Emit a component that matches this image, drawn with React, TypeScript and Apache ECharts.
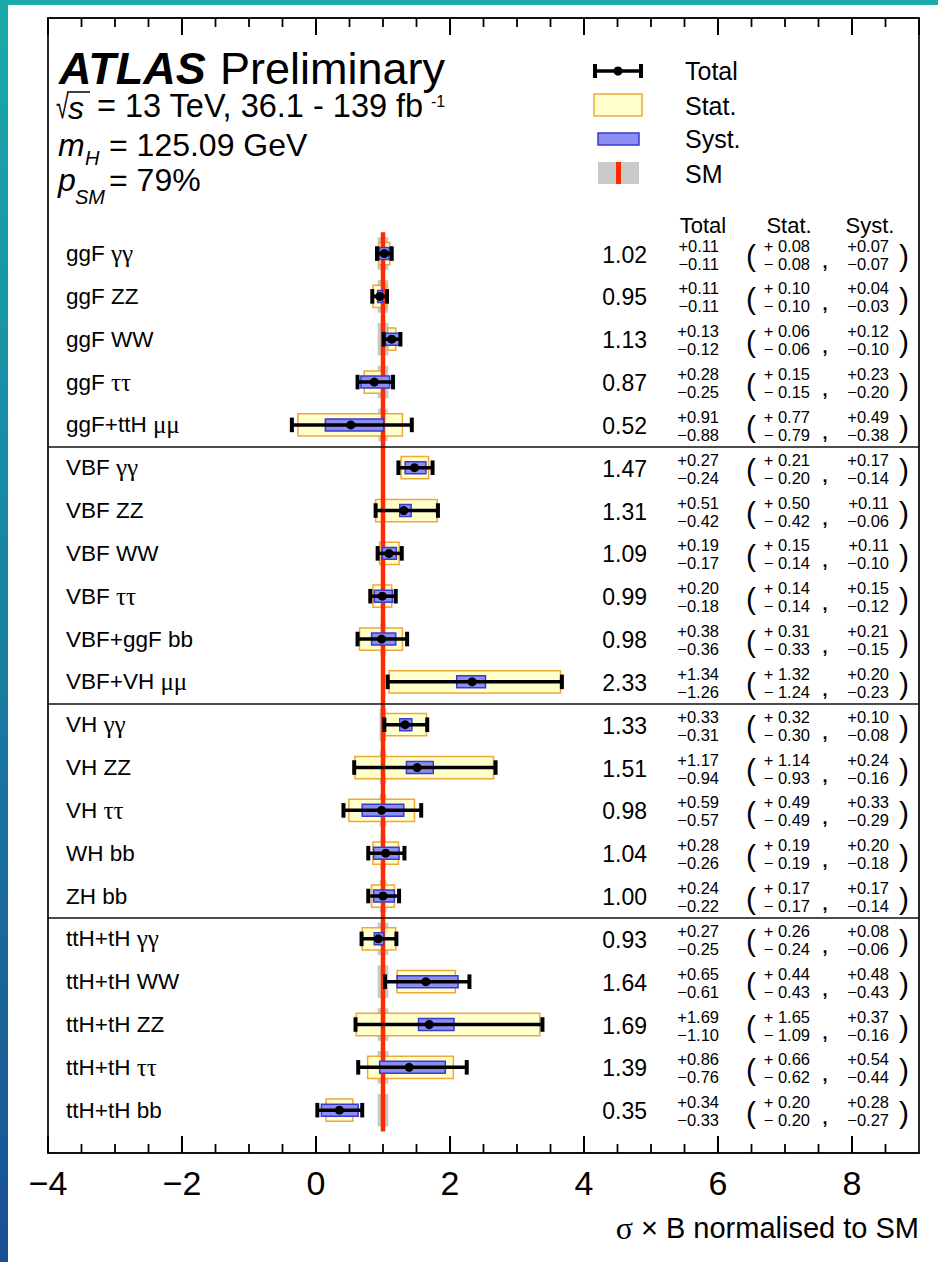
import React, { useEffect, useRef } from "react";
import * as echarts from "echarts";

// ---------------- data ----------------
const production = [
  "ggF", "ggF", "ggF", "ggF", "ggF+ttH",
  "VBF", "VBF", "VBF", "VBF", "VBF+ggF", "VBF+VH",
  "VH", "VH", "VH", "WH", "ZH",
  "ttH+tH", "ttH+tH", "ttH+tH", "ttH+tH", "ttH+tH",
];
const decays = [
  "γγ", "ZZ", "WW", "ττ", "μμ",
  "γγ", "ZZ", "WW", "ττ", "bb", "μμ",
  "γγ", "ZZ", "ττ", "bb", "bb",
  "γγ", "WW", "ZZ", "ττ", "bb",
];
const groups = [
  "ggF", "ggF", "ggF", "ggF", "ggF",
  "VBF", "VBF", "VBF", "VBF", "VBF", "VBF",
  "VH", "VH", "VH", "VH", "VH",
  "ttH", "ttH", "ttH", "ttH", "ttH",
];
const values = [1.02, 0.95, 1.13, 0.87, 0.52, 1.47, 1.31, 1.09, 0.99, 0.98, 2.33, 1.33, 1.51, 0.98, 1.04, 1.0, 0.93, 1.64, 1.69, 1.39, 0.35];
const totUp = [0.11, 0.11, 0.13, 0.28, 0.91, 0.27, 0.51, 0.19, 0.2, 0.38, 1.34, 0.33, 1.17, 0.59, 0.28, 0.24, 0.27, 0.65, 1.69, 0.86, 0.34];
const totDn = [0.11, 0.11, 0.12, 0.25, 0.88, 0.24, 0.42, 0.17, 0.18, 0.36, 1.26, 0.31, 0.94, 0.57, 0.26, 0.22, 0.25, 0.61, 1.1, 0.76, 0.33];
const statUp = [0.08, 0.1, 0.06, 0.15, 0.77, 0.21, 0.5, 0.15, 0.14, 0.31, 1.32, 0.32, 1.14, 0.49, 0.19, 0.17, 0.26, 0.44, 1.65, 0.66, 0.2];
const statDn = [0.08, 0.1, 0.06, 0.15, 0.79, 0.2, 0.42, 0.14, 0.14, 0.33, 1.24, 0.3, 0.93, 0.49, 0.19, 0.17, 0.24, 0.43, 1.09, 0.62, 0.2];
const systUp = [0.07, 0.04, 0.12, 0.23, 0.49, 0.17, 0.11, 0.11, 0.15, 0.21, 0.2, 0.1, 0.24, 0.33, 0.2, 0.17, 0.08, 0.48, 0.37, 0.54, 0.28];
const systDn = [0.07, 0.03, 0.1, 0.2, 0.38, 0.14, 0.06, 0.1, 0.12, 0.15, 0.23, 0.08, 0.16, 0.29, 0.18, 0.14, 0.06, 0.43, 0.16, 0.44, 0.27];
// SM theory uncertainty (grey band half-width)
const smUnc = [0.08, 0.08, 0.08, 0.08, 0.07, 0.03, 0.03, 0.03, 0.03, 0.04, 0.03, 0.05, 0.05, 0.05, 0.04, 0.05, 0.08, 0.08, 0.08, 0.08, 0.08];
const SM = 1;
const xTicks = { min: -4, max: 9, major: 2, minor: 0.5 };

// ---------------- layout / style ----------------
const W = 938;
const H = 1262;
const SANS = '"Liberation Sans", Arial, Helvetica, sans-serif';
const SERIF = '"Liberation Serif", "Times New Roman", serif';
const FRAME = "#111111";
const n = values.length;
const Y_MIN = -5.5;
const Y_MAX = n;
const rows = values.map((_, i) => i);
const breaks: number[] = [];
for (let i = 1; i < n; i++) if (groups[i] !== groups[i - 1]) breaks.push(i - 0.5);
const tickMarks: number[][] = [];
for (let k = 1; xTicks.min + k * xTicks.minor < xTicks.max; k++) {
  const v = xTicks.min + k * xTicks.minor;
  tickMarks.push([v, 0, Math.abs(v / xTicks.major - Math.round(v / xTicks.major)) < 1e-9 ? 1 : 0]);
}
const minus = (v: number) => "\u2212" + v.toFixed(2);
const plus = (v: number) => "+" + v.toFixed(2);

function rectItem(frac: number, fill: string, stroke: string) {
  return (params: any, api: any) => {
    const i = api.value(1);
    const y = api.coord([api.value(0), i])[1];
    const xl = api.coord([api.value(2), i])[0];
    const xr = api.coord([api.value(3), i])[0];
    const h = api.size([0, 1])[1] * frac;
    return {
      type: "rect",
      shape: { x: xl, y: y - h / 2, width: xr - xl, height: h },
      style: { fill, stroke, lineWidth: 1.5 },
    };
  };
}

function buildGraphic(): any[] {
  const t = (x: number, y: number, text: string, fontSize: number, extra: any = {}) => ({
    type: "text",
    x,
    y,
    style: { text, fontSize, fontFamily: SANS, fill: "#000", verticalAlign: "middle", ...extra },
  });
  return [
    {
      type: "rect",
      shape: { x: 0, y: 0, width: 8, height: H },
      style: {
        fill: new echarts.graphic.LinearGradient(0, 0, 0, 1, [
          { offset: 0, color: "#1aaaa9" },
          { offset: 0.4, color: "#1789a4" },
          { offset: 1, color: "#1a5094" },
        ]),
      },
    },
    { type: "rect", shape: { x: 0, y: 0, width: W, height: 5 }, style: { fill: "#1aaaa9" } },
    // title block
    t(59, 68, "ATLAS", 45, { fontWeight: "bold", fontStyle: "italic" }),
    t(220, 68, "Preliminary", 45),
    { type: "text", x: 56, y: 106, scaleX: 0.7, style: { text: "\u221A", fontSize: 33, fontFamily: SANS, fill: "#000", verticalAlign: "middle" } },
    { type: "line", shape: { x1: 67, y1: 92, x2: 90, y2: 92 }, style: { stroke: "#000", lineWidth: 1.5 } },
    t(68, 108, "s", 32, { fontStyle: "italic" }),
    t(97, 106, "= 13 TeV, 36.1 - 139 fb", 32.5),
    t(431, 101, "-1", 16),
    t(58, 145, "m", 32, { fontStyle: "italic" }),
    t(85, 158, "H", 20, { fontStyle: "italic" }),
    t(109, 145, "= 125.09 GeV", 32),
    t(58, 180, "p", 32, { fontStyle: "italic" }),
    t(75, 197, "SM", 20, { fontStyle: "italic" }),
    t(109, 180, "= 79%", 32),
    // legend
    { type: "line", shape: { x1: 594, y1: 71, x2: 642, y2: 71 }, style: { stroke: "#000", lineWidth: 3.5 } },
    { type: "line", shape: { x1: 595, y1: 64, x2: 595, y2: 78 }, style: { stroke: "#000", lineWidth: 4 } },
    { type: "line", shape: { x1: 641, y1: 64, x2: 641, y2: 78 }, style: { stroke: "#000", lineWidth: 4 } },
    { type: "circle", shape: { cx: 618, cy: 71, r: 4.5 }, style: { fill: "#000" } },
    t(685, 71, "Total", 25),
    { type: "rect", shape: { x: 594, y: 94, width: 48, height: 22 }, style: { fill: "#ffffcc", stroke: "#eea83a", lineWidth: 1.5 } },
    t(685, 106, "Stat.", 25),
    { type: "rect", shape: { x: 598, y: 133, width: 41, height: 12 }, style: { fill: "#8c8cf2", stroke: "#3a3ad0", lineWidth: 1.5 } },
    t(685, 139, "Syst.", 25),
    { type: "rect", shape: { x: 598, y: 162, width: 41, height: 22 }, style: { fill: "#c9c9c9" } },
    { type: "rect", shape: { x: 616, y: 162, width: 5, height: 22 }, style: { fill: "#ff2a00" } },
    t(685, 174, "SM", 25),
    // column headers
    t(703, 225, "Total", 22, { align: "center" }),
    t(789, 225, "Stat.", 22, { align: "center" }),
    t(870, 225, "Syst.", 22, { align: "center" }),
    // axis title
    {
      type: "text",
      x: 919,
      y: 1228,
      style: {
        text: "{g|σ} × B normalised to SM",
        rich: { g: { fontFamily: SERIF, fontSize: 32, fill: "#000" } },
        fontSize: 29,
        fontFamily: SANS,
        fill: "#000",
        align: "right",
        verticalAlign: "middle",
      },
    },
  ];
}

function buildOption(graphicEls: any[]): any {
  const frameLine = { show: true, onZero: false, lineStyle: { color: FRAME, width: 1.8 } };
  const xAxisBase = {
    type: "value",
    min: xTicks.min,
    max: xTicks.max,
    interval: xTicks.major,
    splitLine: { show: false },
    axisLine: frameLine,
    axisTick: { show: true, inside: true, length: 17, lineStyle: { color: "#000", width: 2 } },
  };
  const yAxisBase = {
    type: "value",
    min: Y_MIN,
    max: Y_MAX,
    inverse: true,
    axisLine: frameLine,
    axisTick: { show: false },
    axisLabel: { show: false },
    splitLine: { show: false },
  };
  return {
    animation: false,
    backgroundColor: "#ffffff",
    grid: { left: 48, right: 19, top: 18, bottom: 109 },
    xAxis: [
      {
        ...xAxisBase,
        position: "bottom",
        axisLabel: {
          fontSize: 34,
          fontFamily: SANS,
          color: "#000",
          margin: 13,
          showMaxLabel: false,
          formatter: (v: number) => (v < 0 ? "\u2212" + Math.abs(v) : String(v)),
        },
      },
      {
        ...xAxisBase,
        position: "top",
        axisLabel: { show: false },
      },
    ],
    yAxis: [
      { ...yAxisBase, position: "left" },
      { ...yAxisBase, position: "right" },
    ],
    series: [
      {
        name: "SM band",
        type: "custom",
        z: 1,
        renderItem: rectItem(0.76, "#c9c9c9", "none"),
        data: rows.map((i) => [SM, i, SM - smUnc[i], SM + smUnc[i]]),
      },
      {
        name: "Stat.",
        type: "custom",
        z: 2,
        renderItem: rectItem(0.52, "#ffffcc", "#eea83a"),
        data: rows.map((i) => [values[i], i, values[i] - statDn[i], values[i] + statUp[i]]),
      },
      {
        name: "SM",
        type: "line",
        z: 3,
        symbol: "none",
        silent: true,
        lineStyle: { color: "#ff2a00", width: 4.5 },
        data: [
          [SM, -0.5],
          [SM, n - 0.5],
        ],
        markLine: {
          silent: true,
          symbol: "none",
          label: { show: false },
          lineStyle: { color: FRAME, width: 1.6, type: "solid" },
          data: breaks.map((b) => ({ yAxis: b })),
        },
      },
      {
        name: "Syst.",
        type: "custom",
        z: 4,
        renderItem: rectItem(0.28, "#8c8cf2", "#3a3ad0"),
        data: rows.map((i) => [values[i], i, values[i] - systDn[i], values[i] + systUp[i]]),
      },
      {
        name: "Total",
        type: "custom",
        z: 5,
        renderItem: (params: any, api: any) => {
          const i = api.value(1);
          const [xc, y] = api.coord([api.value(0), i]);
          const xl = api.coord([api.value(2), i])[0];
          const xr = api.coord([api.value(3), i])[0];
          const cap = api.size([0, 1])[1] * 0.17;
          return {
            type: "group",
            children: [
              { type: "line", shape: { x1: xl, y1: y, x2: xr, y2: y }, style: { stroke: "#000", lineWidth: 3.5 } },
              { type: "line", shape: { x1: xl, y1: y - cap, x2: xl, y2: y + cap }, style: { stroke: "#000", lineWidth: 4 } },
              { type: "line", shape: { x1: xr, y1: y - cap, x2: xr, y2: y + cap }, style: { stroke: "#000", lineWidth: 4 } },
              { type: "circle", shape: { cx: xc, cy: y, r: 4.5 }, style: { fill: "#000" } },
            ],
          };
        },
        data: rows.map((i) => [values[i], i, values[i] - totDn[i], values[i] + totUp[i]]),
      },
      {
        name: "labels",
        type: "custom",
        z: 6,
        silent: true,
        renderItem: (params: any, api: any) => {
          const i = api.value(1);
          const y = api.coord([0, i])[1];
          const greek = /[γτμ]/.test(decays[i]);
          const small = (x: number, dy: number, text: string) => ({
            type: "text",
            x,
            y: y + dy,
            style: { text, fontSize: 16.5, fontFamily: SANS, fill: "#000", align: "right", verticalAlign: "middle" },
          });
          const paren = (x: number, text: string) => ({
            type: "text",
            x,
            y: y + 2,
            style: { text, fontSize: 30, fontFamily: SANS, fill: "#000", align: "center", verticalAlign: "middle" },
          });
          return {
            type: "group",
            children: [
              {
                type: "text",
                x: 66,
                y,
                style: {
                  text: `{p|${production[i]} }{d|${decays[i]}}`,
                  rich: {
                    p: { fontSize: 22.5, fontFamily: SANS, fill: "#000" },
                    d: { fontSize: greek ? 25 : 22.5, fontFamily: greek ? SERIF : SANS, fill: "#000" },
                  },
                  align: "left",
                  verticalAlign: "middle",
                },
              },
              {
                type: "text",
                x: 647,
                y: y + 1,
                style: { text: values[i].toFixed(2), fontSize: 23, fontFamily: SANS, fill: "#000", align: "right", verticalAlign: "middle" },
              },
              small(719, -8, plus(totUp[i])),
              small(719, 10, minus(totDn[i])),
              paren(751, "("),
              small(810, -8, "+ " + statUp[i].toFixed(2)),
              small(810, 10, "\u2212 " + statDn[i].toFixed(2)),
              {
                type: "text",
                x: 825,
                y: y + 8,
                style: { text: ",", fontSize: 18, fontWeight: "bold", fontFamily: SANS, fill: "#000", align: "center", verticalAlign: "middle" },
              },
              small(889, -8, plus(systUp[i])),
              small(889, 10, minus(systDn[i])),
              paren(904, ")"),
            ],
          };
        },
        data: rows.map((i) => [0, i]),
      },
    ],
    graphic: { elements: graphicEls },
  };
}

export default function App() {
  const ref = useRef<HTMLDivElement>(null);
  useEffect(() => {
    if (!ref.current) return;
    const chart = echarts.init(ref.current, null, { renderer: "svg", width: W, height: H });
    const base = buildGraphic();
    chart.setOption(buildOption(base));
    // minor + major tick marks on the top and bottom frame, placed through the axis scales
    try {
      const top = chart.convertToPixel({ yAxisIndex: 0 } as any, Y_MIN) as number;
      const bottom = chart.convertToPixel({ yAxisIndex: 0 } as any, Y_MAX) as number;
      const tickEls: any[] = [];
      tickMarks.forEach(([v, , major]) => {
        const x = chart.convertToPixel({ xAxisIndex: 0 } as any, v) as number;
        const len = major ? 17 : 9;
        if (typeof x !== "number" || isNaN(x)) return;
        tickEls.push({ type: "line", z: 50, shape: { x1: x, y1: bottom, x2: x, y2: bottom - len }, style: { stroke: "#000", lineWidth: 1.8 } });
        tickEls.push({ type: "line", z: 50, shape: { x1: x, y1: top, x2: x, y2: top + len }, style: { stroke: "#000", lineWidth: 1.8 } });
      });
      if (typeof top === "number" && typeof bottom === "number") {
        chart.setOption({ graphic: { elements: base.concat(tickEls) } });
      }
    } catch (e) {
      // keep the chart without extra ticks
    }
    return () => chart.dispose();
  }, []);
  return <div ref={ref} style={{ position: "absolute", left: 0, top: 0, width: W, height: H }} />;
}
